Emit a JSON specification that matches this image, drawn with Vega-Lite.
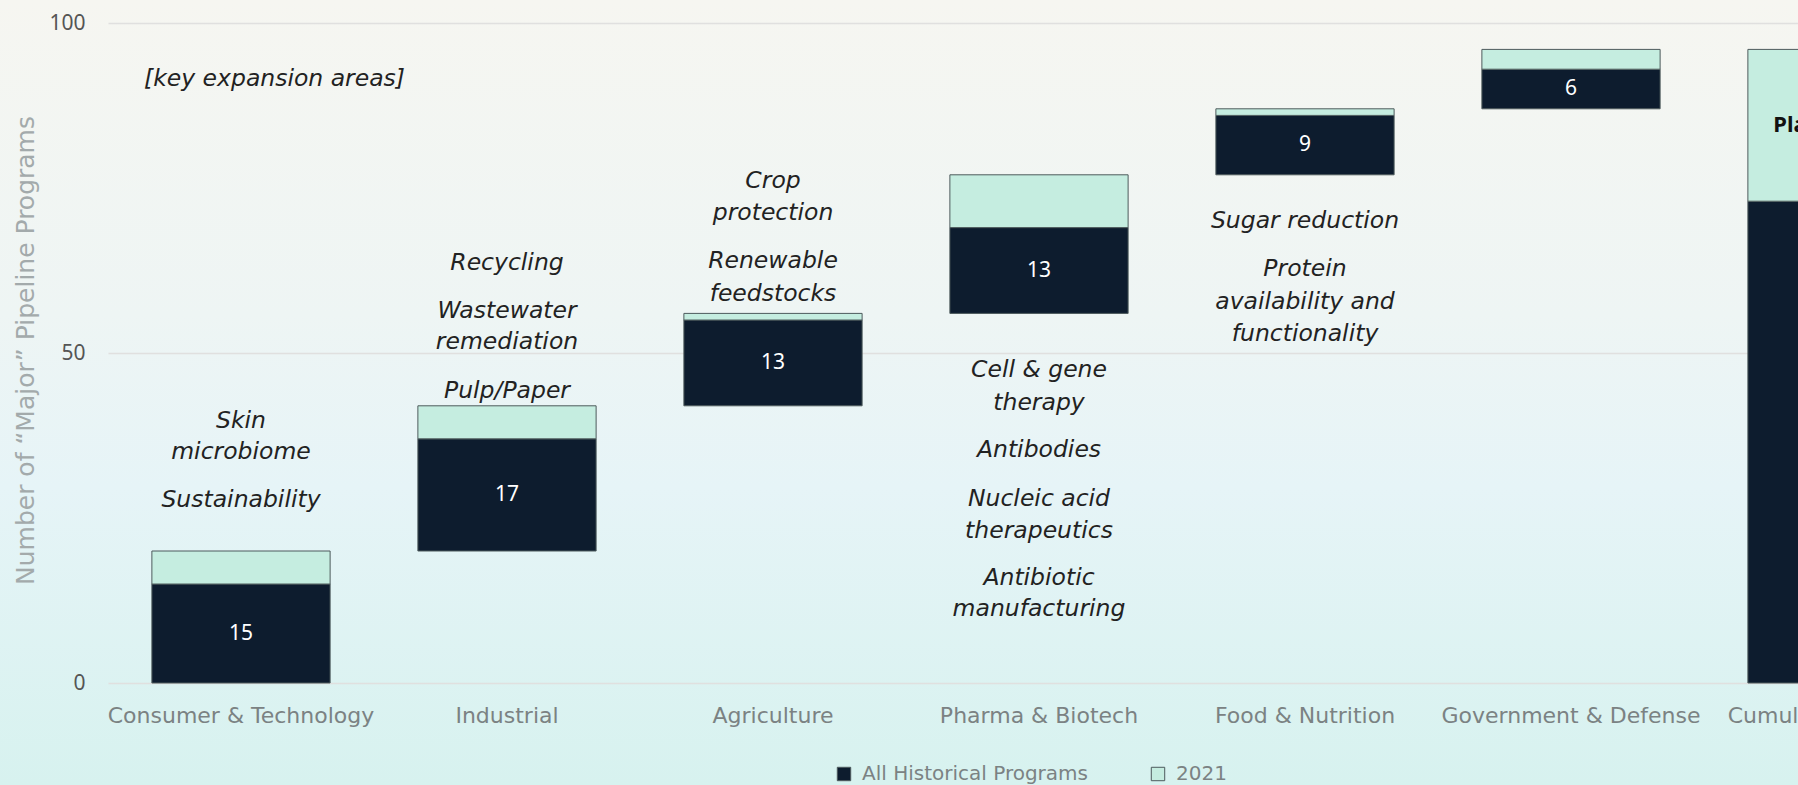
{
  "$schema": "https://vega.github.io/schema/vega-lite/v6.json",
  "autosize": {"type": "none"},
  "padding": 0,
  "width": 1798,
  "height": 785,
  "background": "#dff2f0",
  "config": {
    "view": {
      "stroke": null,
      "fill": {
        "gradient": "linear", "x1": 0, "y1": 0, "x2": 0, "y2": 1,
        "stops": [
          {"offset": 0, "color": "#f6f6f1"},
          {"offset": 0.4, "color": "#eef5f4"},
          {"offset": 0.62, "color": "#e6f4f7"},
          {"offset": 1, "color": "#d7f2ef"}
        ]
      }
    }
  },
  "datasets": {
    "bars": [
      {"category": "Consumer & Technology", "series": "All Historical Programs", "start": 0, "end": 15, "label": "15"},
      {"category": "Consumer & Technology", "series": "2021", "start": 15, "end": 20, "label": ""},
      {"category": "Industrial", "series": "All Historical Programs", "start": 20, "end": 37, "label": "17"},
      {"category": "Industrial", "series": "2021", "start": 37, "end": 42, "label": ""},
      {"category": "Agriculture", "series": "All Historical Programs", "start": 42, "end": 55, "label": "13"},
      {"category": "Agriculture", "series": "2021", "start": 55, "end": 56, "label": ""},
      {"category": "Pharma & Biotech", "series": "All Historical Programs", "start": 56, "end": 69, "label": "13"},
      {"category": "Pharma & Biotech", "series": "2021", "start": 69, "end": 77, "label": ""},
      {"category": "Food & Nutrition", "series": "All Historical Programs", "start": 77, "end": 86, "label": "9"},
      {"category": "Food & Nutrition", "series": "2021", "start": 86, "end": 87, "label": ""},
      {"category": "Government & Defense", "series": "All Historical Programs", "start": 87, "end": 93, "label": "6"},
      {"category": "Government & Defense", "series": "2021", "start": 93, "end": 96, "label": ""},
      {"category": "Cumulative Pipeline", "series": "All Historical Programs", "start": 0, "end": 73, "label": "73"},
      {"category": "Cumulative Pipeline", "series": "2021", "start": 73, "end": 96, "label": "Platform 23"}
    ],
    "notes": [
      {"category": "Consumer & Technology", "text": "Skin", "y": 39.7},
      {"category": "Consumer & Technology", "text": "microbiome", "y": 35.0},
      {"category": "Consumer & Technology", "text": "Sustainability", "y": 27.7},
      {"category": "Industrial", "text": "Recycling", "y": 63.6},
      {"category": "Industrial", "text": "Wastewater", "y": 56.4},
      {"category": "Industrial", "text": "remediation", "y": 51.7},
      {"category": "Industrial", "text": "Pulp/Paper", "y": 44.2},
      {"category": "Agriculture", "text": "Crop", "y": 76.0},
      {"category": "Agriculture", "text": "protection", "y": 71.2},
      {"category": "Agriculture", "text": "Renewable", "y": 63.9},
      {"category": "Agriculture", "text": "feedstocks", "y": 59.0},
      {"category": "Pharma & Biotech", "text": "Cell & gene", "y": 47.4},
      {"category": "Pharma & Biotech", "text": "therapy", "y": 42.5},
      {"category": "Pharma & Biotech", "text": "Antibodies", "y": 35.3},
      {"category": "Pharma & Biotech", "text": "Nucleic acid", "y": 27.9},
      {"category": "Pharma & Biotech", "text": "therapeutics", "y": 23.0},
      {"category": "Pharma & Biotech", "text": "Antibiotic", "y": 15.9},
      {"category": "Pharma & Biotech", "text": "manufacturing", "y": 11.2},
      {"category": "Food & Nutrition", "text": "Sugar reduction", "y": 70.0},
      {"category": "Food & Nutrition", "text": "Protein", "y": 62.7},
      {"category": "Food & Nutrition", "text": "availability and", "y": 57.8},
      {"category": "Food & Nutrition", "text": "functionality", "y": 52.9}
    ],
    "header": [
      {"category": "Consumer & Technology", "text": "[key expansion areas]", "y": 91.5}
    ]
  },
  "encoding": {
    "x": {
      "field": "category", "type": "nominal", "sort": null,
      "scale": {
        "domain": ["Consumer & Technology", "Industrial", "Agriculture", "Pharma & Biotech", "Food & Nutrition", "Government & Defense", "Cumulative Pipeline"],
        "range": [108, 1970], "paddingInner": 0.33, "paddingOuter": 0.165
      },
      "axis": {
        "title": null, "domain": false, "ticks": false, "grid": false, "offset": -102,
        "labelAngle": 0, "labelFont": "DejaVu Sans", "labelFontSize": 22, "labelLimit": 0,
        "labelColor": "#7b8283", "labelPadding": 22
      }
    }
  },
  "layer": [
    {
      "data": {"name": "bars"},
      "mark": {"type": "bar", "stroke": "#4d5a5c", "strokeWidth": 1},
      "encoding": {
        "y": {
          "field": "start", "type": "quantitative",
          "scale": {"domain": [0, 100], "nice": false, "range": [683, 23]},
          "axis": {
            "values": [0, 50, 100], "domain": false, "ticks": false, "offset": -108,
            "gridColor": "#e0e0df", "gridWidth": 1.5,
            "labelFont": "Noto Sans", "labelFontSize": 21, "labelColor": "#555555", "labelPadding": 23,
            "title": "Number of “Major” Pipeline Programs",
            "titleFont": "DejaVu Sans", "titleFontSize": 25, "titleFontWeight": "normal", "titleColor": "#a3aaab",
            "titleX": -83, "titleY": 350, "titleAngle": -90, "titleAlign": "center", "titleBaseline": "middle"
          }
        },
        "y2": {"field": "end"},
        "color": {
          "field": "series", "type": "nominal",
          "scale": {"domain": ["All Historical Programs", "2021"], "range": ["#0d1c2e", "#c5ede0"]},
          "legend": {
            "title": null, "orient": "none", "legendX": 834, "legendY": 764, "direction": "horizontal",
            "symbolType": "square", "symbolSize": 180, "symbolStrokeColor": "#4d5a5c", "symbolStrokeWidth": 1,
            "labelFont": "DejaVu Sans", "labelFontSize": 20, "labelColor": "#7b8283", "labelLimit": 0,
            "columnPadding": 60, "labelOffset": 8
          }
        }
      }
    },
    {
      "data": {"name": "bars"},
      "transform": [
        {"filter": "datum.series === 'All Historical Programs'"},
        {"calculate": "(datum.start + datum.end) / 2", "as": "mid"}
      ],
      "mark": {"type": "text", "color": "white", "font": "Noto Sans", "fontSize": 21, "baseline": "middle"},
      "encoding": {
        "y": {"field": "mid", "type": "quantitative"},
        "text": {"field": "label"}
      }
    },
    {
      "data": {"name": "bars"},
      "transform": [
        {"filter": "datum.series === '2021' && datum.label !== ''"},
        {"calculate": "(datum.start + datum.end) / 2", "as": "mid"}
      ],
      "mark": {"type": "text", "color": "#111111", "font": "Noto Sans", "fontSize": 22, "fontWeight": "bold", "baseline": "middle"},
      "encoding": {
        "y": {"field": "mid", "type": "quantitative"},
        "text": {"field": "label"}
      }
    },
    {
      "data": {"name": "notes"},
      "mark": {"type": "text", "color": "#222222", "font": "DejaVu Sans", "fontSize": 23.5, "fontStyle": "italic", "baseline": "middle"},
      "encoding": {
        "y": {"field": "y", "type": "quantitative"},
        "text": {"field": "text"}
      }
    },
    {
      "data": {"name": "header"},
      "mark": {"type": "text", "color": "#222222", "font": "DejaVu Sans", "fontSize": 23.5, "fontStyle": "italic", "baseline": "middle", "align": "left", "dx": -97},
      "encoding": {
        "y": {"field": "y", "type": "quantitative"},
        "text": {"field": "text"}
      }
    }
  ]
}
